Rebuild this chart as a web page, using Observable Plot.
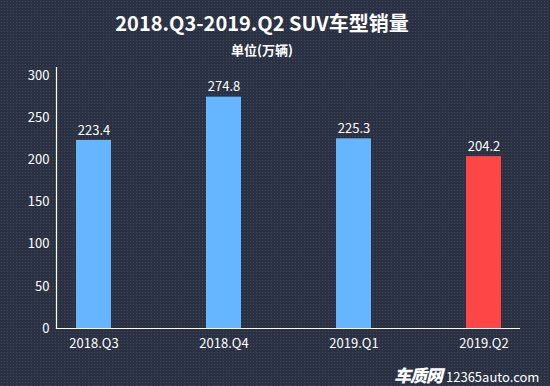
<!DOCTYPE html>
<html><head><meta charset="utf-8">
<script src="https://cdn.jsdelivr.net/npm/d3@7"></script>
<script src="https://cdn.jsdelivr.net/npm/@observablehq/plot@0.6"></script>
<style>
html,body{margin:0;padding:0;}
body{width:550px;height:386px;overflow:hidden;font-family:"Noto Sans CJK SC","Noto Sans",sans-serif;
 background-color:#2a3142;
 background-image:radial-gradient(circle, rgba(80,92,115,0.55) 0.6px, transparent 0.9px);
 background-size:3px 3px;}
#wrap{position:relative;width:550px;height:386px;}
#title{position:absolute;left:0;width:524px;top:9px;text-align:center;color:#fff;font-size:20px;font-weight:bold;line-height:28px;}
#sub{position:absolute;left:0;width:524px;top:41px;text-align:center;color:#fff;font-size:13px;font-weight:bold;line-height:18px;}
#chart{position:absolute;left:0;top:0;}
#wm{position:absolute;left:394px;top:362px;color:#fff;white-space:nowrap;}
#wm .a{font-size:17px;font-weight:900;font-style:italic;letter-spacing:-1px;}
#wm .b{font-size:13px;margin-left:4px;}
</style></head>
<body><div id="wrap">
<div id="chart"></div>
<div id="title"></div>
<div id="sub"></div>
<div id="wm"><span class="a">车质网</span><span class="b">12365auto.com</span></div>
</div>
<script>
const titleText = "2018.Q3-2019.Q2 SUV车型销量";
const subtitleText = "单位(万辆)";
const quarters = ["2018.Q3","2018.Q4","2019.Q1","2019.Q2"];
const sales = [223.4, 274.8, 225.3, 204.2];
const barColors = ["#66b5ff","#66b5ff","#66b5ff","#ff4646"];
const yTicks = [0,50,100,150,200,250,300];

document.getElementById("title").textContent = titleText;
document.getElementById("sub").textContent = subtitleText;

const data = quarters.map((q,i)=>({q, v:sales[i], c:barColors[i]}));

const chart = Plot.plot({
  width:550, height:386,
  marginLeft:56, marginRight:30, marginTop:67, marginBottom:58,
  style:{background:"transparent", color:"#fff", fontFamily:"'Noto Sans CJK SC','Noto Sans',sans-serif", fontSize:"12px"},
  x:{domain:quarters, paddingInner:0.731, paddingOuter:0.15, label:null},
  y:{domain:[0,310], label:null},
  marks:[
    Plot.barY(data,{x:"q", y:"v", fill:"c"}),
    Plot.text(data,{x:"q", y:"v", text:d=>d.v.toFixed(1), dy:-10, fill:"#fff", fontSize:13}),
    Plot.axisY({ticks:yTicks, tickSize:0, tickPadding:7, fontSize:13, label:null, stroke:"none", fill:"#fff"}),
    Plot.axisX({tickSize:0, tickPadding:10, fontSize:13, label:null, fill:"#fff"}),
    Plot.frame({anchor:"left", stroke:"#fff", strokeWidth:1.2}),
    Plot.ruleY([0],{stroke:"#fff", strokeWidth:1.2})
  ]
});
document.getElementById("chart").appendChild(chart);
</script>
</body></html>
